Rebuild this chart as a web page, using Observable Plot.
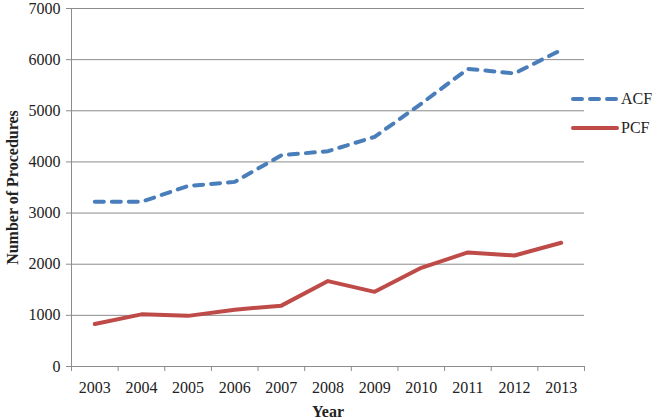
<!DOCTYPE html>
<html>
<head>
<meta charset="utf-8">
<script src="https://cdn.jsdelivr.net/npm/d3@7"></script>
<script src="https://cdn.jsdelivr.net/npm/@observablehq/plot@0.6"></script>
<style>
  html, body { margin: 0; padding: 0; background: #fff; }
  #wrap { position: relative; width: 656px; height: 418px; font-family: "Liberation Serif", "Times New Roman", serif; }
  #legend { position: absolute; left: 571px; top: 84px; font-size: 16px; color: #222; }
  .item { display: flex; align-items: center; height: 29px; }
  .item svg { margin-right: 2px; }
</style>
</head>
<body>
<div id="wrap"></div>
<script>
const years = [2003, 2004, 2005, 2006, 2007, 2008, 2009, 2010, 2011, 2012, 2013];
const acf = [3220, 3220, 3530, 3610, 4130, 4210, 4490, 5140, 5820, 5730, 6190];
const pcf = [830, 1020, 990, 1110, 1190, 1670, 1460, 1930, 2230, 2170, 2420];
const yTicks = [0, 1000, 2000, 3000, 4000, 5000, 6000, 7000];
const seriesNames = ["ACF", "PCF"];
const seriesColors = ["#4a7ebb", "#be4b48"];

const acfData = years.map((y, i) => ({year: y, value: acf[i]}));
const pcfData = years.map((y, i) => ({year: y, value: pcf[i]}));
const bandEdges = [years[0] - 0.5, ...years.map(y => y + 0.5)];

const chart = Plot.plot({
  width: 656,
  height: 418,
  marginLeft: 71,
  marginRight: 72,
  marginTop: 8,
  marginBottom: 52,
  style: {fontFamily: "Liberation Serif, Times New Roman, serif", fontSize: "16px", color: "#222", background: "#fff", overflow: "visible"},
  x: {domain: [years[0] - 0.5, years[years.length - 1] + 0.5]},
  y: {domain: [0, 7000]},
  marks: [
    Plot.gridY(yTicks, {stroke: "#8c8c8c", strokeOpacity: 1, strokeWidth: 1}),
    Plot.axisY(yTicks, {tickSize: 5, tickPadding: 6, stroke: "#8c8c8c", label: null, tickFormat: d => String(d), fontSize: 16}),
    Plot.ruleX([years[0] - 0.5], {stroke: "#8c8c8c", strokeWidth: 1}),
    Plot.axisX(bandEdges, {tickSize: 5, stroke: "#8c8c8c", tickFormat: () => "", label: null}),
    Plot.axisX(years, {tickSize: 0, tickPadding: 15, tickFormat: d => String(d), label: null, fontSize: 16}),
    Plot.text(["Year"], {frameAnchor: "bottom", dy: 50, fontWeight: "bold", fontSize: 16, fill: "#222"}),
    Plot.text(["Number of Procedures"], {frameAnchor: "left", textAnchor: "middle", dx: -59, rotate: -90, fontWeight: "bold", fontSize: 16, fill: "#222"}),
    Plot.line(acfData, {x: "year", y: "value", stroke: seriesColors[0], strokeWidth: 4, strokeDasharray: "9,8", strokeLinecap: "round", strokeLinejoin: "round"}),
    Plot.line(pcfData, {x: "year", y: "value", stroke: seriesColors[1], strokeWidth: 4, strokeLinecap: "round", strokeLinejoin: "round"})
  ]
});

const wrap = document.getElementById("wrap");
wrap.appendChild(chart);

const legend = document.createElement("div");
legend.id = "legend";
seriesNames.forEach((name, i) => {
  const item = document.createElement("div");
  item.className = "item";
  const dash = i === 0 ? 'stroke-dasharray="9,8"' : '';
  item.innerHTML = `<svg width="48" height="10"><line x1="2" y1="5" x2="46" y2="5" stroke="${seriesColors[i]}" stroke-width="4" stroke-linecap="round" ${dash}/></svg><span>${name}</span>`;
  legend.appendChild(item);
});
wrap.appendChild(legend);
</script>
</body>
</html>
